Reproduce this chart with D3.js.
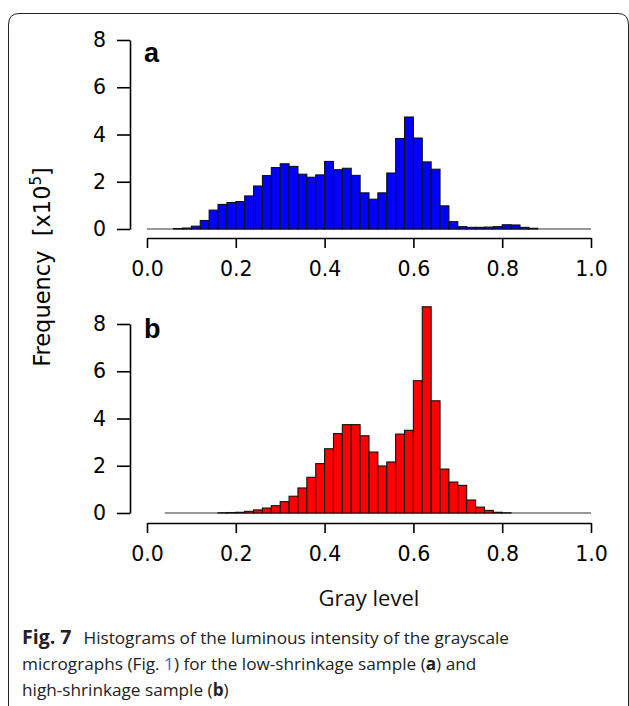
<!DOCTYPE html>
<html>
<head>
<meta charset="utf-8">
<script src="https://cdn.jsdelivr.net/npm/d3@7"></script>
<style>
  html, body { margin: 0; padding: 0; background: #fff; }
  svg { display: block; }
</style>
</head>
<body>
<svg id="chart" width="629" height="706"></svg>
<script>
// ---- data ----
const binStarts = [0.00,0.02,0.04,0.06,0.08,0.10,0.12,0.14,0.16,0.18,
                   0.20,0.22,0.24,0.26,0.28,0.30,0.32,0.34,0.36,0.38,
                   0.40,0.42,0.44,0.46,0.48,0.50,0.52,0.54,0.56,0.58,
                   0.60,0.62,0.64,0.66,0.68,0.70,0.72,0.74,0.76,0.78,
                   0.80,0.82,0.84,0.86,0.88,0.90,0.92,0.94,0.96,0.98];
const binWidth = 0.02;
// panel a: low-shrinkage sample (x10^5)
const lowShrinkage = [0,0,0,0.02,0.04,0.12,0.36,0.80,1.04,1.12,
                      1.16,1.40,1.82,2.26,2.60,2.76,2.65,2.32,2.19,2.29,
                      2.86,2.51,2.57,2.27,1.53,1.26,1.53,2.37,3.83,4.74,
                      3.85,2.84,2.53,0.98,0.31,0.10,0.07,0.07,0.08,0.10,
                      0.18,0.17,0.07,0.03,0,0,0,0,0,0];
// panel b: high-shrinkage sample (x10^5); null = no bin
const highShrinkage = [null,null,0,0,0,0,0,0,0.01,0.02,
                       0.03,0.07,0.13,0.21,0.31,0.48,0.71,1.06,1.51,2.09,
                       2.72,3.36,3.74,3.74,3.27,2.58,1.99,2.16,3.34,3.50,
                       5.60,8.73,4.75,1.86,1.31,1.17,0.55,0.25,0.11,0.03,
                       0.01,0,0,0,0,0,0,0,0,0];
const xTicks = [0.0,0.2,0.4,0.6,0.8,1.0];
const yTicks = [0,2,4,6,8];
const panelLabels = ["a","b"];
const fills = ["#0000ff","#ff0000"];

// ---- drawing ----
const svg = d3.select("#chart");
const FONT = "'DejaVu Sans', sans-serif";

// frame
svg.append("path")
  .attr("d", "M8.5,712 V25 Q8.5,13.5 19,13.5 H618 Q628.5,13.5 628.5,25 V712")
  .attr("fill","none").attr("stroke","#222").attr("stroke-width",1);

const x = d3.scaleLinear().domain([0,1]).range([147,591]);

const panels = [
  {values: lowShrinkage,  yRange:[229,40],  xAxisY:238, fill:fills[0], label:panelLabels[0], labelY:62},
  {values: highShrinkage, yRange:[513,324], xAxisY:523, fill:fills[1], label:panelLabels[1], labelY:338}
];

panels.forEach(p => {
  const y = d3.scaleLinear().domain([0,8]).range(p.yRange);
  const g = svg.append("g");
  const data = binStarts.map((b,i) => ({x0:b, x1:b+binWidth, v:p.values[i]})).filter(d => d.v !== null);
  // zero-count bins appear as a baseline
  g.append("line")
    .attr("x1", x(d3.min(data, d => d.x0))).attr("x2", x(d3.max(data, d => d.x1)))
    .attr("y1", y(0)).attr("y2", y(0))
    .attr("stroke","#333").attr("stroke-width",1.2);
  g.selectAll("rect").data(data.filter(d => d.v > 0)).join("rect")
    .attr("x", d => x(d.x0))
    .attr("width", d => x(d.x1) - x(d.x0))
    .attr("y", d => y(d.v))
    .attr("height", d => y(0) - y(d.v))
    .attr("fill", p.fill)
    .attr("stroke", "#111")
    .attr("stroke-width", 1.1);

  const yAxis = d3.axisLeft(y).tickValues(yTicks).tickFormat(d3.format("d"))
    .tickSize(13).tickSizeOuter(0).tickPadding(11);
  const ga = svg.append("g").attr("transform","translate(130,0)").call(yAxis);
  const xAxis = d3.axisBottom(x).tickValues(xTicks).tickFormat(d3.format(".1f"))
    .tickSize(10).tickSizeOuter(0).tickPadding(13);
  const gb = svg.append("g").attr("transform",`translate(0,${p.xAxisY})`).call(xAxis);
  [ga,gb].forEach(a => {
    a.selectAll("path,line").attr("stroke","#000").attr("stroke-width",1.6);
    a.selectAll("text").attr("font-family",FONT).attr("font-size",20.5).attr("fill","#000");
  });

  svg.append("text").attr("x",144).attr("y",p.labelY)
    .attr("font-family","'Liberation Sans', Arial, sans-serif").attr("font-weight","bold")
    .attr("font-size",27).text(p.label);
});

// y title
const yt = svg.append("text")
  .attr("transform","translate(50,267) rotate(-90)")
  .attr("text-anchor","middle")
  .attr("font-family",FONT).attr("font-size",22.5).attr("fill","#000");
yt.append("tspan").text("Frequency\u00a0\u00a0[x10");
yt.append("tspan").attr("font-size",15).attr("dy",-9).text("5");
yt.append("tspan").attr("dy",9).text("]");

// x title
svg.append("text").attr("x",369).attr("y",606).attr("text-anchor","middle")
  .attr("font-family","'Open Sans', sans-serif").attr("font-size",22).attr("fill","#111")
  .text("Gray level");

// caption
const CAP = "'Open Sans', sans-serif";
const cap = svg.append("g").attr("font-family",CAP).attr("font-size",17.2).attr("fill","#222");
const l1 = cap.append("text").attr("x",22).attr("y",644);
l1.append("tspan").attr("font-weight","bold").attr("font-size",19.5).text("Fig. 7");
l1.append("tspan").attr("dx",12).text("Histograms of the luminous intensity of the grayscale");
const l2 = cap.append("text").attr("x",22).attr("y",670);
l2.append("tspan").text("micrographs (Fig. ");
l2.append("tspan").attr("fill","#3a64c8").text("1");
l2.append("tspan").text(") for the low-shrinkage sample (");
l2.append("tspan").attr("font-weight","bold").text("a");
l2.append("tspan").text(") and");
const l3 = cap.append("text").attr("x",22).attr("y",696);
l3.append("tspan").text("high-shrinkage sample (");
l3.append("tspan").attr("font-weight","bold").text("b");
l3.append("tspan").text(")");
</script>
</body>
</html>
